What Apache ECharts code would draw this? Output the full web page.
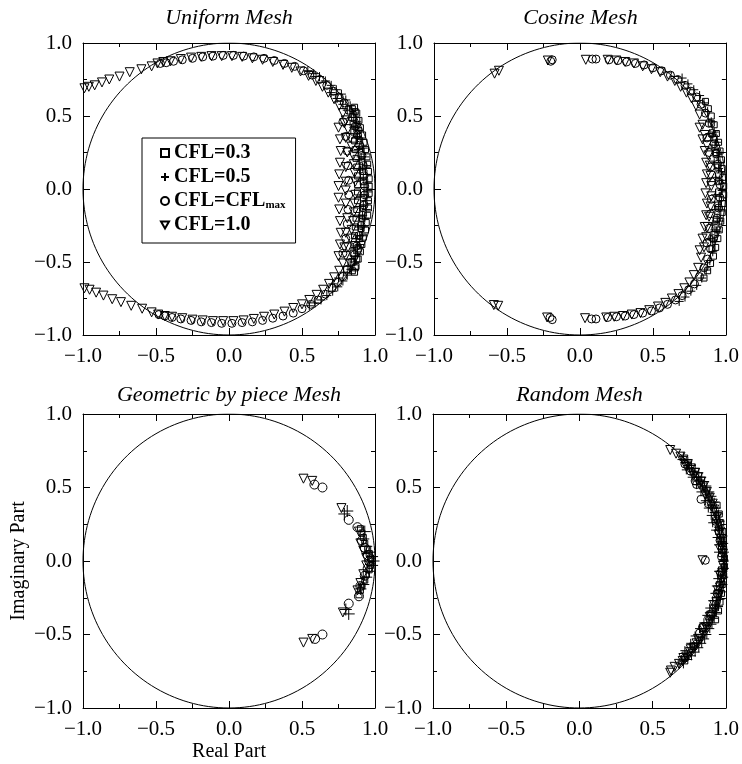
<!DOCTYPE html>
<html>
<head>
<meta charset="utf-8">
<script src="https://cdn.jsdelivr.net/npm/echarts@6/dist/echarts.min.js"></script>
<style>
html, body { margin: 0; padding: 0; background: #fff; }
#chart { width: 742px; height: 764px; }
</style>
</head>
<body>
<div id="chart"></div>
<script>
// Eigenvalues of the amplification operator (real part, imaginary part)
const seriesNames = ['CFL=0.3', 'CFL=0.5', 'CFL=CFL_max', 'CFL=1.0'];
const panelTitles = ['Uniform Mesh', 'Cosine Mesh', 'Geometric by piece Mesh', 'Random Mesh'];
const axisTicks = [-1.0, -0.5, 0.0, 0.5, 1.0];

// ---- Uniform mesh ----
const uniform03 = [
  [0.96,0.02],[0.96,0.07],[0.955,0.12],[0.95,0.17],[0.945,0.22],[0.935,0.27],[0.925,0.32],[0.915,0.37],[0.90,0.42],[0.89,0.47],[0.875,0.52],[0.86,0.56],
  [0.92,0.05],[0.915,0.12],[0.91,0.19],[0.905,0.26],[0.895,0.33],[0.885,0.40],[0.875,0.47],[0.865,0.53],
  [0.88,0.03],[0.88,0.09],[0.875,0.15],[0.87,0.21],[0.865,0.27],[0.86,0.33],[0.855,0.39],[0.85,0.45],[0.85,0.51],[0.845,0.55],
  [0.96,-0.03],[0.955,-0.08],[0.955,-0.13],[0.95,-0.18],[0.94,-0.23],[0.935,-0.28],[0.92,-0.33],[0.91,-0.38],[0.90,-0.43],[0.885,-0.48],[0.87,-0.53],[0.86,-0.57],
  [0.92,-0.06],[0.915,-0.13],[0.91,-0.20],[0.905,-0.27],[0.895,-0.34],[0.885,-0.41],[0.875,-0.48],[0.865,-0.54],
  [0.88,-0.02],[0.88,-0.08],[0.875,-0.14],[0.87,-0.20],[0.865,-0.26],[0.86,-0.32],[0.855,-0.38],[0.85,-0.44],[0.85,-0.50],[0.845,-0.56]
];
const uniform05 = [
  [0.95,0.04],[0.945,0.10],[0.94,0.16],[0.93,0.22],[0.92,0.28],[0.905,0.34],[0.89,0.40],[0.875,0.46],[0.855,0.52],[0.83,0.57],[0.80,0.61],[0.77,0.65],[0.735,0.68],[0.70,0.71],[0.66,0.74],[0.62,0.77],[0.58,0.79],[0.54,0.81],
  [0.925,0.01],[0.92,0.08],[0.915,0.15],[0.905,0.22],[0.895,0.29],[0.88,0.36],[0.865,0.43],
  [0.90,0.06],[0.90,0.13],[0.895,0.20],[0.885,0.27],[0.87,0.35],[0.855,0.42],[0.84,0.49],[0.81,0.54],[0.78,0.58],[0.74,0.62],[0.70,0.66],
  [0.95,-0.02],[0.945,-0.08],[0.94,-0.14],[0.93,-0.20],[0.92,-0.26],[0.91,-0.32],[0.895,-0.38],[0.88,-0.44],[0.86,-0.50],[0.835,-0.55],[0.81,-0.59],[0.78,-0.63],[0.745,-0.67],[0.71,-0.70],[0.67,-0.73],[0.63,-0.76],[0.59,-0.78],[0.55,-0.80],
  [0.925,-0.04],[0.92,-0.11],[0.915,-0.18],[0.905,-0.25],[0.895,-0.32],[0.88,-0.39],[0.865,-0.46],
  [0.90,-0.05],[0.90,-0.12],[0.895,-0.19],[0.885,-0.26],[0.87,-0.34],[0.855,-0.41],[0.84,-0.48],[0.815,-0.53],[0.785,-0.57],[0.75,-0.61],[0.71,-0.65]
];
const uniformMax = [
  [0.93,0.02],[0.925,0.09],[0.92,0.16],[0.91,0.23],[0.895,0.30],[0.88,0.37],[0.865,0.43],[0.845,0.49],[0.82,0.54],[0.79,0.59],[0.755,0.63],[0.715,0.67],[0.67,0.71],[0.62,0.75],[0.57,0.78],[0.51,0.81],[0.45,0.84],[0.38,0.86],[0.31,0.88],[0.24,0.895],[0.17,0.905],[0.10,0.91],[0.03,0.915],[-0.04,0.915],[-0.11,0.91],[-0.18,0.905],[-0.25,0.895],[-0.32,0.885],[-0.38,0.875],[-0.43,0.865],[-0.47,0.86],
  [0.82,0.06],[0.815,0.16],[0.81,0.26],[0.80,0.36],[0.78,0.46],
  [0.93,-0.04],[0.925,-0.11],[0.915,-0.18],[0.905,-0.25],[0.89,-0.32],[0.875,-0.39],[0.86,-0.45],[0.84,-0.50],[0.81,-0.55],[0.78,-0.60],[0.745,-0.64],[0.705,-0.68],[0.66,-0.72],[0.61,-0.76],[0.56,-0.79],[0.50,-0.82],[0.44,-0.85],[0.37,-0.87],[0.30,-0.885],[0.23,-0.90],[0.16,-0.91],[0.09,-0.915],[0.02,-0.92],[-0.05,-0.92],[-0.12,-0.915],[-0.19,-0.91],[-0.26,-0.90],[-0.33,-0.89],[-0.39,-0.88],[-0.44,-0.87],[-0.48,-0.86],
  [0.82,-0.04],[0.815,-0.14],[0.81,-0.24],[0.80,-0.34],[0.78,-0.44]
];
const uniform10 = [
  [-0.99,0.69],[-0.96,0.70],[-0.92,0.71],[-0.87,0.73],[-0.82,0.75],[-0.75,0.77],[-0.68,0.80],[-0.60,0.82],[-0.53,0.84],[-0.49,0.86],[-0.45,0.87],[-0.40,0.875],[-0.33,0.89],[-0.26,0.90],[-0.19,0.905],[-0.12,0.91],[-0.05,0.91],[0.02,0.91],[0.09,0.905],[0.16,0.895],[0.23,0.885],[0.30,0.87],[0.37,0.85],[0.43,0.83],[0.49,0.805],[0.545,0.775],[0.595,0.74],[0.64,0.70],[0.68,0.66],[0.72,0.615],[0.755,0.57],[0.78,0.52],[0.80,0.47],[0.815,0.41],[0.83,0.35],[0.84,0.29],[0.85,0.23],[0.855,0.17],[0.86,0.11],[0.865,0.05],
  [0.75,0.02],[0.755,0.10],[0.76,0.18],[0.765,0.26],[0.76,0.34],[0.75,0.42],
  [0.80,0.05],[0.80,0.15],[0.81,0.25],[0.80,0.35],[0.79,0.45],
  [-0.99,-0.68],[-0.955,-0.69],[-0.91,-0.71],[-0.86,-0.73],[-0.80,-0.755],[-0.74,-0.775],[-0.67,-0.80],[-0.595,-0.82],[-0.53,-0.845],[-0.485,-0.86],[-0.44,-0.87],[-0.39,-0.875],[-0.32,-0.885],[-0.25,-0.895],[-0.18,-0.90],[-0.11,-0.905],[-0.04,-0.905],[0.03,-0.905],[0.10,-0.90],[0.17,-0.89],[0.24,-0.875],[0.31,-0.86],[0.38,-0.84],[0.44,-0.815],[0.50,-0.79],[0.55,-0.76],[0.60,-0.725],[0.645,-0.69],[0.685,-0.65],[0.72,-0.605],[0.755,-0.56],[0.78,-0.51],[0.80,-0.46],[0.815,-0.40],[0.83,-0.34],[0.84,-0.28],[0.85,-0.22],[0.855,-0.16],[0.86,-0.10],[0.865,-0.04],
  [0.75,-0.06],[0.755,-0.14],[0.76,-0.22],[0.765,-0.30],[0.76,-0.38],[0.75,-0.46],
  [0.80,-0.01],[0.80,-0.10],[0.81,-0.20],[0.80,-0.30],[0.79,-0.40]
];

// ---- Cosine mesh ----
const cosine03 = [
  [0.985,0.02],[0.98,0.08],[0.975,0.14],[0.97,0.20],[0.96,0.26],[0.95,0.32],[0.935,0.38],[0.92,0.44],[0.90,0.50],[0.88,0.55],[0.86,0.60],
  [0.95,0.05],[0.945,0.15],[0.935,0.25],[0.92,0.35],[0.90,0.45],
  [0.985,-0.04],[0.98,-0.10],[0.975,-0.16],[0.965,-0.22],[0.955,-0.28],[0.945,-0.34],[0.93,-0.40],[0.915,-0.46],[0.895,-0.51],[0.875,-0.56],[0.85,-0.61],
  [0.95,-0.02],[0.945,-0.11],[0.935,-0.21],[0.925,-0.31],[0.905,-0.41]
];
const cosine05 = [
  [0.975,0.04],[0.97,0.11],[0.96,0.18],[0.95,0.25],[0.935,0.32],[0.92,0.39],[0.90,0.46],[0.875,0.53],[0.85,0.59],[0.82,0.64],[0.78,0.68],[0.74,0.72],[0.70,0.76],
  [0.93,0.08],[0.92,0.18],[0.905,0.28],[0.89,0.38],
  [0.955,0.06],[0.95,0.14],[0.94,0.22],[0.925,0.30],[0.91,0.36],
  [0.975,-0.01],[0.97,-0.08],[0.965,-0.15],[0.955,-0.22],[0.94,-0.29],[0.925,-0.36],[0.91,-0.43],[0.89,-0.49],[0.865,-0.555],[0.835,-0.61],[0.80,-0.66],[0.76,-0.70],[0.72,-0.74],[0.68,-0.77],
  [0.93,-0.04],[0.925,-0.14],[0.91,-0.24],[0.895,-0.34],
  [0.955,-0.05],[0.95,-0.12],[0.94,-0.20],[0.925,-0.28],[0.91,-0.35]
];
const cosineMax = [
  [0.96,0.03],[0.955,0.10],[0.945,0.17],[0.935,0.24],[0.92,0.31],[0.905,0.38],[0.885,0.45],[0.86,0.52],[0.83,0.58],[0.80,0.63],[0.76,0.67],[0.72,0.71],[0.67,0.75],[0.62,0.78],[0.56,0.81],[0.50,0.83],[0.44,0.85],[0.38,0.86],[0.32,0.87],[0.26,0.88],[0.20,0.885],[0.11,0.89],[0.085,0.89],[-0.19,0.885],[-0.20,0.875],
  [0.90,0.05],[0.895,0.15],[0.885,0.25],[0.87,0.35],
  [0.96,-0.06],[0.95,-0.13],[0.94,-0.20],[0.93,-0.27],[0.915,-0.34],[0.895,-0.41],[0.875,-0.48],[0.85,-0.54],[0.82,-0.60],[0.785,-0.65],[0.745,-0.69],[0.70,-0.73],[0.655,-0.76],[0.60,-0.79],[0.545,-0.815],[0.49,-0.835],[0.43,-0.85],[0.37,-0.86],[0.31,-0.87],[0.25,-0.875],[0.19,-0.88],[0.11,-0.89],[0.08,-0.89],[-0.19,-0.895],[-0.205,-0.88],
  [0.90,-0.07],[0.895,-0.17],[0.885,-0.27],[0.87,-0.37]
];
const cosine10 = [
  [0.90,0.02],[0.895,0.09],[0.89,0.16],[0.88,0.23],[0.87,0.30],[0.855,0.37],[0.84,0.44],[0.82,0.51],[0.795,0.57],[0.765,0.62],[0.73,0.66],[0.69,0.70],[0.65,0.74],[0.60,0.77],[0.55,0.80],[0.49,0.82],[0.43,0.84],[0.37,0.86],[0.31,0.87],[0.25,0.88],[0.19,0.885],[0.04,0.885],[-0.22,0.88],[-0.555,0.81],[-0.585,0.79],
  [0.865,0.04],[0.86,-0.03],[0.87,0.10],[0.865,0.18],[0.855,0.26],[0.84,0.34],[0.82,0.42],
  [0.90,-0.05],[0.895,-0.12],[0.885,-0.19],[0.875,-0.26],[0.865,-0.33],[0.85,-0.40],[0.83,-0.47],[0.81,-0.54],[0.78,-0.59],[0.75,-0.64],[0.715,-0.68],[0.675,-0.72],[0.63,-0.75],[0.585,-0.78],[0.535,-0.805],[0.475,-0.83],[0.415,-0.85],[0.355,-0.86],[0.295,-0.87],[0.235,-0.875],[0.18,-0.88],[0.035,-0.885],[-0.225,-0.88],[-0.56,-0.80],[-0.59,-0.795],
  [0.87,-0.10],[0.865,-0.18],[0.855,-0.26],[0.84,-0.34],[0.82,-0.42]
];

// ---- Geometric by piece mesh ----
const geometric03 = [
  [0.90,0.22],[0.91,0.19],[0.92,0.16],[0.93,0.12],[0.95,0.08],[0.96,0.05],[0.97,0.02],[0.98,0.0],[0.97,-0.03],[0.96,-0.06],[0.94,-0.09],[0.93,-0.13],[0.91,-0.17],[0.90,-0.20],[0.89,-0.23]
];
const geometric05 = [
  [0.81,0.34],[0.79,0.32],[0.93,0.20],[0.92,0.15],[0.94,0.10],[0.96,0.06],[0.98,0.03],[0.99,0.0],[0.98,-0.03],[0.96,-0.07],[0.94,-0.11],[0.92,-0.16],[0.90,-0.19],[0.80,-0.33],[0.82,-0.36]
];
const geometricMax = [
  [0.64,0.50],[0.585,0.52],[0.82,0.28],[0.88,0.23],[0.91,0.14],[0.93,0.09],[0.95,0.04],[0.96,0.0],[0.95,-0.05],[0.93,-0.10],[0.90,-0.17],[0.89,-0.24],[0.82,-0.29],[0.59,-0.53],[0.64,-0.50]
];
const geometric10 = [
  [0.51,0.56],[0.57,0.545],[0.77,0.36],[0.89,0.20],[0.90,0.12],[0.92,0.07],[0.94,0.02],[0.94,-0.03],[0.92,-0.09],[0.90,-0.15],[0.88,-0.20],[0.78,-0.35],[0.57,-0.53],[0.51,-0.555]
];

// ---- Random mesh ----
const random03 = [
  [0.99,0.02],[0.985,0.08],[0.98,0.14],[0.975,0.20],[0.965,0.26],[0.955,0.32],[0.94,0.38],
  [0.99,-0.04],[0.985,-0.10],[0.975,-0.16],[0.97,-0.22],[0.96,-0.28],[0.95,-0.34],[0.93,-0.40]
];
const random05 = [
  [0.70,0.69],[0.72,0.67],[0.74,0.65],[0.75,0.63],[0.77,0.61],[0.78,0.59],[0.80,0.57],[0.81,0.55],[0.83,0.53],[0.84,0.51],[0.85,0.49],[0.86,0.47],[0.87,0.45],[0.88,0.43],[0.89,0.41],[0.90,0.38],[0.91,0.36],[0.92,0.33],[0.93,0.31],[0.935,0.28],[0.94,0.26],[0.95,0.23],[0.955,0.21],[0.96,0.18],[0.965,0.15],[0.97,0.13],[0.975,0.10],[0.975,0.08],[0.98,0.05],[0.98,0.03],[0.985,0.01],
  [0.73,0.62],[0.77,0.57],[0.80,0.52],[0.83,0.47],[0.86,0.41],[0.88,0.36],[0.90,0.31],[0.91,0.26],[0.93,0.21],[0.94,0.16],[0.95,0.11],[0.95,0.06],
  [0.99,0.0],[0.99,0.06],[0.985,0.12],[0.98,0.17],[0.97,0.22],[0.96,0.27],[0.95,0.32],[0.935,0.36],[0.92,0.40],[0.905,0.44],[0.89,0.47],[0.87,0.51],[0.855,0.54],[0.835,0.57],[0.815,0.60],[0.79,0.63],[0.765,0.65],[0.74,0.68],[0.71,0.71],
  [0.985,-0.02],[0.98,-0.04],[0.98,-0.07],[0.975,-0.09],[0.97,-0.12],[0.965,-0.14],[0.96,-0.17],[0.955,-0.20],[0.95,-0.22],[0.94,-0.25],[0.935,-0.27],[0.93,-0.30],[0.92,-0.32],[0.91,-0.35],[0.90,-0.37],[0.89,-0.40],[0.88,-0.42],[0.87,-0.44],[0.86,-0.46],[0.85,-0.48],[0.84,-0.50],[0.83,-0.52],[0.815,-0.54],[0.80,-0.56],[0.785,-0.58],[0.77,-0.60],[0.755,-0.62],[0.74,-0.64],[0.72,-0.66],[0.70,-0.68],[0.68,-0.70],
  [0.95,-0.07],[0.945,-0.12],[0.935,-0.17],[0.925,-0.22],[0.91,-0.27],[0.89,-0.32],[0.87,-0.37],[0.85,-0.42],[0.82,-0.46],[0.79,-0.51],[0.76,-0.56],[0.72,-0.61],
  [0.99,-0.05],[0.985,-0.11],[0.98,-0.16],[0.97,-0.21],[0.96,-0.26],[0.95,-0.31],[0.935,-0.35],[0.92,-0.39],[0.905,-0.43],[0.89,-0.46],[0.87,-0.50],[0.855,-0.53],[0.835,-0.56],[0.815,-0.59],[0.79,-0.62],[0.765,-0.645],[0.74,-0.67],[0.71,-0.70]
];
const randomMax = [
  [0.80,0.52],[0.79,0.545],[0.83,0.42],[0.76,0.61],[0.72,0.66],[0.88,0.39],[0.93,0.27],[0.96,0.14],[0.97,0.03],[0.86,0.005],
  [0.965,-0.08],[0.94,-0.22],[0.90,-0.36],[0.84,-0.45],[0.82,-0.49],[0.78,-0.58],[0.72,-0.66]
];
const random10 = [
  [0.62,0.755],[0.66,0.73],[0.69,0.71],[0.71,0.69],[0.74,0.66],[0.76,0.63],[0.79,0.60],[0.81,0.57],[0.83,0.54],[0.85,0.51],[0.87,0.47],[0.89,0.43],[0.91,0.39],[0.92,0.35],[0.94,0.30],[0.95,0.25],[0.96,0.20],[0.97,0.15],[0.975,0.10],[0.98,0.05],[0.84,0.005],
  [0.73,0.64],[0.78,0.58],[0.82,0.52],[0.86,0.45],[0.90,0.37],[0.93,0.28],[0.95,0.18],[0.96,0.08],
  [0.98,-0.03],[0.975,-0.08],[0.97,-0.13],[0.96,-0.18],[0.95,-0.23],[0.935,-0.28],[0.92,-0.33],[0.905,-0.37],[0.885,-0.41],[0.865,-0.45],[0.845,-0.49],[0.825,-0.53],[0.80,-0.56],[0.78,-0.59],[0.755,-0.62],[0.73,-0.65],[0.705,-0.68],[0.68,-0.70],[0.65,-0.72],[0.625,-0.745],[0.62,-0.76],
  [0.96,-0.10],[0.945,-0.20],[0.92,-0.30],[0.89,-0.38],[0.85,-0.46],[0.81,-0.53],[0.76,-0.60],[0.71,-0.66]
];

const panelData = [
  [uniform03, uniform05, uniformMax, uniform10],
  [cosine03, cosine05, cosineMax, cosine10],
  [geometric03, geometric05, geometricMax, geometric10],
  [random03, random05, randomMax, random10]
];

// Unit circle reference curve
const unitCircle = [];
for (let a = 0; a <= 360; a += 2) {
  const t = a * Math.PI / 180;
  unitCircle.push([Math.cos(t), Math.sin(t)]);
}

const FONT = 'Liberation Serif';
const symbols = ['rect', 'path://M0,5L10,5M5,0L5,10', 'circle', 'path://M0,0L10,0L5,8.66Z'];
const symbolSizes = [[6, 9, 8, 9], [6, 9, 8, 9], [6, 12, 9, 9], [6, 9, 8, 9]];

const grids = [
  { left: 83, top: 43, width: 292, height: 292 },
  { left: 434, top: 43, width: 293, height: 292 },
  { left: 83, top: 414, width: 292, height: 294 },
  { left: 433, top: 414, width: 293, height: 294 }
];

const fmt = v => (v < 0 ? '\u2212' : '') + Math.abs(v).toFixed(1);

function makeAxis(gridIndex, position, showLabel) {
  return {
    type: 'value', gridIndex, position,
    min: axisTicks[0], max: axisTicks[axisTicks.length - 1], interval: 0.5,
    axisLine: { show: true, onZero: false, lineStyle: { color: '#000', width: 1 } },
    axisTick: { show: true, inside: true, length: 7, lineStyle: { color: '#000', width: 1 } },
    minorTick: { show: true, splitNumber: 2, length: 4, lineStyle: { color: '#000', width: 1 } },
    splitLine: { show: false },
    axisLabel: { show: showLabel, formatter: fmt, color: '#000', fontFamily: FONT, fontSize: 21, margin: 11 }
  };
}

const xAxes = [], yAxes = [];
grids.forEach((g, i) => {
  xAxes.push(makeAxis(i, 'bottom', true));
  yAxes.push(makeAxis(i, 'left', true));
});
grids.forEach((g, i) => {
  xAxes.push(makeAxis(i, 'top', false));
  yAxes.push(makeAxis(i, 'right', false));
});
Object.assign(yAxes[2], {
  name: 'Imaginary Part', nameLocation: 'middle', nameGap: 54,
  nameTextStyle: { color: '#000', fontFamily: FONT, fontSize: 20 }
});
Object.assign(xAxes[2], {
  name: 'Real Part', nameLocation: 'middle', nameGap: 34,
  nameTextStyle: { color: '#000', fontFamily: FONT, fontSize: 20 }
});

const series = [];
panelData.forEach((sets, p) => {
  series.push({
    type: 'line', xAxisIndex: p, yAxisIndex: p, data: unitCircle,
    showSymbol: false, silent: true, smooth: false, z: 1,
    lineStyle: { color: '#000', width: 1 }
  });
  sets.forEach((pts, k) => {
    series.push({
      type: 'scatter', name: seriesNames[k], xAxisIndex: p, yAxisIndex: p,
      data: pts, symbol: symbols[k], symbolSize: symbolSizes[p][k], z: 3,
      itemStyle: { color: 'rgba(0,0,0,0)', borderColor: '#000', borderWidth: 1, opacity: 1 },
      emphasis: { disabled: true }
    });
  });
});

const titles = panelTitles.map((t, i) => ({
  text: t,
  left: grids[i].left + grids[i].width / 2,
  top: i < 2 ? 7 : 384,
  textAlign: 'center',
  padding: 0,
  textStyle: { fontFamily: FONT, fontStyle: 'italic', fontWeight: 'normal', fontSize: 22, color: '#000' }
}));

const chart = echarts.init(document.getElementById('chart'), null, { renderer: 'canvas' });
chart.setOption({
  backgroundColor: '#fff',
  animation: false,
  title: titles,
  grid: grids,
  xAxis: xAxes,
  yAxis: yAxes,
  legend: {
    data: seriesNames,
    orient: 'vertical',
    left: 142, top: 138,
    padding: [5, 10, 8, 18],
    itemGap: 4,
    itemWidth: 8, itemHeight: 8,
    borderColor: '#000', borderWidth: 1, borderRadius: 0,
    selectedMode: false,
    formatter: name => name === 'CFL=CFL_max' ? '{a|CFL=CFL}{s|max}' : '{a|' + name + '}',
    textStyle: {
      color: '#000',
      rich: {
        a: { fontFamily: FONT, fontWeight: 'bold', fontSize: 20, color: '#000', lineHeight: 19 },
        s: { fontFamily: FONT, fontWeight: 'bold', fontSize: 11, color: '#000', padding: [9, 0, 0, 0], lineHeight: 19 }
      }
    }
  },
  series
});
</script>
</body>
</html>
